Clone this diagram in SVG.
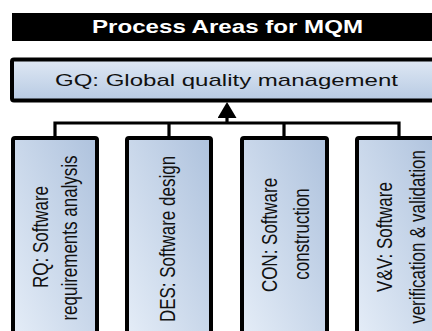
<svg xmlns="http://www.w3.org/2000/svg" width="432" height="331" viewBox="0 0 432 331">
  <style>
    .box { stroke: #000; stroke-width: 4; fill: url(#gChild); }
    .gq { stroke: #000; stroke-width: 4; fill: url(#gTop); }
    .lbl { font-family: "Liberation Sans", Arial, sans-serif; font-size: 17px; fill: #111; }
    .conn { fill: none; stroke: #000; stroke-width: 3.2; stroke-linejoin: miter; }
  </style>
  <defs>
    <linearGradient id="gChild" x1="0" y1="1" x2="1" y2="0">
      <stop offset="0" stop-color="#e6eef8"/>
      <stop offset="1" stop-color="#aec2dd"/>
    </linearGradient>
    <linearGradient id="gTop" x1="0" y1="0" x2="0" y2="1">
      <stop offset="0" stop-color="#dfe8f4"/>
      <stop offset="1" stop-color="#b7cae3"/>
    </linearGradient>
    <marker id="arrow" viewBox="0 0 10 10" refX="5" refY="5" markerWidth="16" markerHeight="19" markerUnits="userSpaceOnUse" orient="auto" preserveAspectRatio="none">
      <path d="M0,0 L10,5 L0,10 z" fill="#000"/>
    </marker>
  </defs>

  <g id="title">
    <rect x="12" y="13" width="420" height="28" fill="#000"/>
    <text x="92" y="32.7" font-family="Liberation Sans, Arial, sans-serif" font-weight="bold" font-size="17.7" fill="#fff" textLength="271" lengthAdjust="spacingAndGlyphs">Process Areas for MQM</text>
  </g>

  <g id="connectors">
    <path class="conn" d="M55,137 V123 H399 V137"/>
    <path class="conn" d="M169,123 V137"/>
    <path class="conn" d="M284,123 V137"/>
    <path class="conn" d="M227,123 V110" marker-end="url(#arrow)"/>
  </g>

  <g id="GQ">
    <rect class="gq" x="12" y="59.5" width="432" height="41" rx="2"/>
    <text class="lbl" x="55" y="86" style="font-size:16.6px" textLength="343" lengthAdjust="spacingAndGlyphs">GQ: Global quality management</text>
  </g>

  <g id="RQ">
    <rect class="box" x="13" y="138" width="84" height="210" rx="2"/>
    <text class="lbl" text-anchor="middle" transform="translate(48,237) rotate(-90) scale(1,1.32)">RQ: Software</text>
    <text class="lbl" text-anchor="middle" transform="translate(77,238) rotate(-90) scale(1,1.32)">requirements analysis</text>
  </g>

  <g id="DES">
    <rect class="box" x="127" y="138" width="84" height="210" rx="2"/>
    <text class="lbl" text-anchor="middle" transform="translate(175,239) rotate(-90) scale(1,1.32)">DES: Software design</text>
  </g>

  <g id="CON">
    <rect class="box" x="242" y="138" width="85" height="210" rx="2"/>
    <text class="lbl" text-anchor="middle" transform="translate(277,235) rotate(-90) scale(1,1.32)">CON: Software</text>
    <text class="lbl" text-anchor="middle" transform="translate(309,234) rotate(-90) scale(1,1.32)">construction</text>
  </g>

  <g id="VV">
    <rect class="box" x="357" y="138" width="84" height="210" rx="2"/>
    <text class="lbl" text-anchor="middle" transform="translate(392,237) rotate(-90) scale(1,1.32)">V&amp;V: Software</text>
    <text class="lbl" text-anchor="middle" transform="translate(425,237) rotate(-90) scale(1,1.32)">verification &amp; validation</text>
  </g>
</svg>
